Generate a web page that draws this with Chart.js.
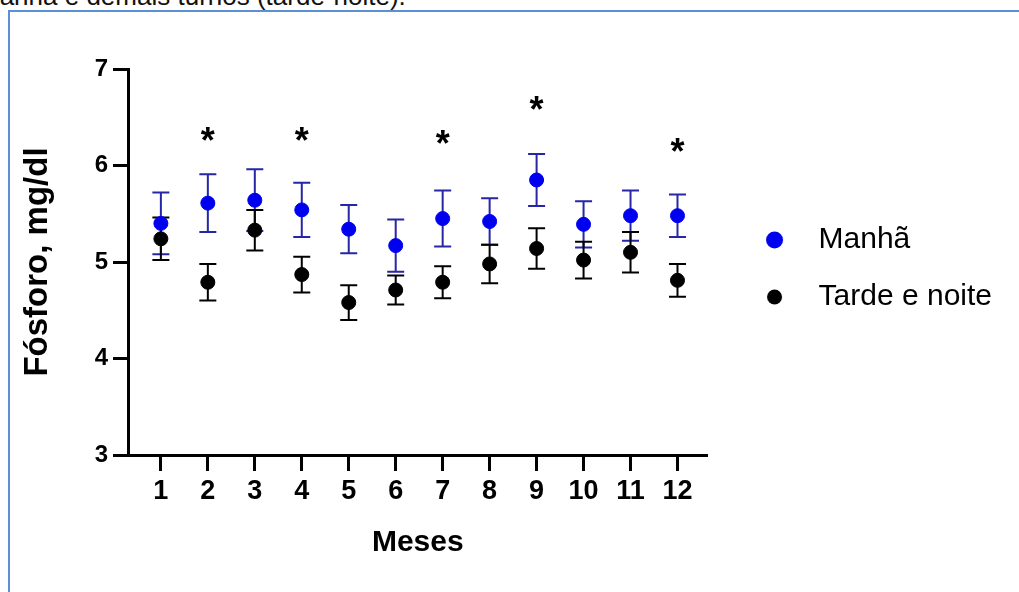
<!DOCTYPE html>
<html>
<head>
<meta charset="utf-8">
<script src="https://cdn.jsdelivr.net/npm/chart.js@4"></script>
<style>
  body { margin: 0; background: #fff; overflow: hidden; }
  #page { position: relative; width: 1019px; height: 592px; overflow: hidden; }
  #caption { position: absolute; left: -22px; top: -17px; font: 26px/26px "Liberation Sans", Arial, sans-serif; color: #111; white-space: nowrap; }
  #frame { position: absolute; left: 8px; top: 10px; width: 1100px; height: 700px; border: 2px solid #5b8fd6; }
  #wrap { position: absolute; left: 0; top: 0; width: 1019px; height: 592px; }
</style>
</head>
<body>
<div id="page">
  <div id="caption">manhã e demais turnos (tarde-noite).</div>
  <div id="frame"></div>
  <div id="wrap"><canvas id="chart"></canvas></div>
</div>
<script>
const months = [1, 2, 3, 4, 5, 6, 7, 8, 9, 10, 11, 12];
const manha = [5.40, 5.61, 5.64, 5.54, 5.34, 5.17, 5.45, 5.42, 5.85, 5.39, 5.48, 5.48];
const manhaErr = [0.32, 0.30, 0.32, 0.28, 0.25, 0.27, 0.29, 0.24, 0.27, 0.24, 0.26, 0.22];
const tarde = [5.24, 4.79, 5.33, 4.87, 4.58, 4.71, 4.79, 4.98, 5.14, 5.02, 5.10, 4.81];
const tardeErr = [0.22, 0.19, 0.21, 0.185, 0.18, 0.15, 0.165, 0.20, 0.21, 0.19, 0.21, 0.17];
const starMonths = [2, 4, 7, 9, 12];
const starLevel = [6.34, 6.34, 6.31, 6.66, 6.23];
const yTicks = [3, 4, 5, 6, 7];

const FONT = '"Liberation Sans", Arial, sans-serif';

// small dot images for the legend (dot sits a bit right of the image centre)
function legendDot(color, r) {
  const c = document.createElement('canvas');
  c.width = 30; c.height = 20;
  const g = c.getContext('2d');
  g.fillStyle = color;
  g.beginPath();
  g.arc(20.5, 10, r, 0, Math.PI * 2);
  g.fill();
  return c;
}
const legendDots = [legendDot('#0000f0', 8.5), legendDot('#000', 7.5)];

// error bars drawn under the points
const errorBars = {
  id: 'errorBars',
  beforeDatasetsDraw(chart) {
    const { ctx, scales: { x, y } } = chart;
    ctx.save();
    ctx.lineWidth = 2;
    chart.data.datasets.forEach(ds => {
      ctx.strokeStyle = ds.errColor;
      ds.data.forEach((p, i) => {
        const px = x.getPixelForValue(p.x);
        const top = y.getPixelForValue(p.y + ds.err[i]);
        const bot = y.getPixelForValue(p.y - ds.err[i]);
        ctx.beginPath();
        ctx.moveTo(px, top); ctx.lineTo(px, bot);
        ctx.moveTo(px - 8.5, top); ctx.lineTo(px + 8.5, top);
        ctx.moveTo(px - 8.5, bot); ctx.lineTo(px + 8.5, bot);
        ctx.stroke();
      });
    });
    ctx.restore();
  }
};

// significance marks
const stars = {
  id: 'stars',
  afterDatasetsDraw(chart) {
    const { ctx, scales: { x, y } } = chart;
    ctx.save();
    ctx.fillStyle = '#000';
    ctx.font = 'bold 36px ' + FONT;
    ctx.textAlign = 'center';
    ctx.textBaseline = 'alphabetic';
    starMonths.forEach((m, i) => {
      ctx.fillText('*', x.getPixelForValue(m), y.getPixelForValue(starLevel[i]) + 0.57 * 36);
    });
    ctx.restore();
  }
};

new Chart(document.getElementById('chart'), {
  type: 'scatter',
  data: {
    datasets: [
      {
        label: 'Manhã',
        data: months.map((m, i) => ({ x: m, y: manha[i] })),
        err: manhaErr,
        errColor: '#2626a6',
        backgroundColor: '#0000f0',
        borderColor: '#0000f0',
        borderWidth: 1,
        pointRadius: 7,
        pointHoverRadius: 7
      },
      {
        label: 'Tarde e noite',
        data: months.map((m, i) => ({ x: m, y: tarde[i] })),
        err: tardeErr,
        errColor: '#000',
        backgroundColor: '#000',
        borderColor: '#000',
        borderWidth: 1,
        pointRadius: 7,
        pointHoverRadius: 7
      }
    ]
  },
  options: {
    responsive: true,
    maintainAspectRatio: false,
    animation: false,
    layout: { padding: { top: 69, right: 17, bottom: 0, left: 0 } },
    plugins: {
      tooltip: { enabled: false },
      legend: {
        position: 'right',
        fullSize: false,
        maxWidth: 320,
        title: { display: true, text: '', padding: 0, font: { size: 10, lineHeight: 1.3 } },
        labels: {
          usePointStyle: true,
          pointStyleWidth: 69,
          boxHeight: 11,
          padding: 27,
          color: '#000',
          font: { family: FONT, size: 30 },
          generateLabels: chart => Chart.defaults.plugins.legend.labels.generateLabels(chart)
            .map((item, i) => ({ ...item, pointStyle: legendDots[i] }))
        }
      }
    },
    scales: {
      x: {
        type: 'linear',
        min: 0.3,
        max: 12.64,
        afterBuildTicks: s => { s.ticks = months.map(v => ({ value: v })); },
        afterFit: s => { s.height = 137; },
        grid: { drawOnChartArea: false, drawTicks: true, tickLength: 16, tickWidth: 3, tickColor: '#000' },
        border: { display: true, width: 3, color: '#000' },
        ticks: { color: '#000', padding: 4, maxRotation: 0, autoSkip: false, font: { family: FONT, size: 27, weight: 'bold' } },
        title: { display: true, text: 'Meses', color: '#000', padding: { top: 0, bottom: 31 }, font: { family: FONT, size: 30, weight: 'bold' } }
      },
      y: {
        min: 3,
        max: 7,
        afterBuildTicks: s => { s.ticks = yTicks.map(v => ({ value: v })); },
        afterFit: s => { s.width = 128; },
        grid: { drawOnChartArea: false, drawTicks: true, tickLength: 15, tickWidth: 3, tickColor: '#000' },
        border: { display: true, width: 3, color: '#000' },
        ticks: { color: '#000', padding: 5, font: { family: FONT, size: 24, weight: 'bold' } },
        title: { display: true, text: 'Fósforo, mg/dl', color: '#000', padding: { top: 18, bottom: 0 }, font: { family: FONT, size: 33, weight: 'bold' } }
      }
    }
  },
  plugins: [errorBars, stars]
});
</script>
</body>
</html>
